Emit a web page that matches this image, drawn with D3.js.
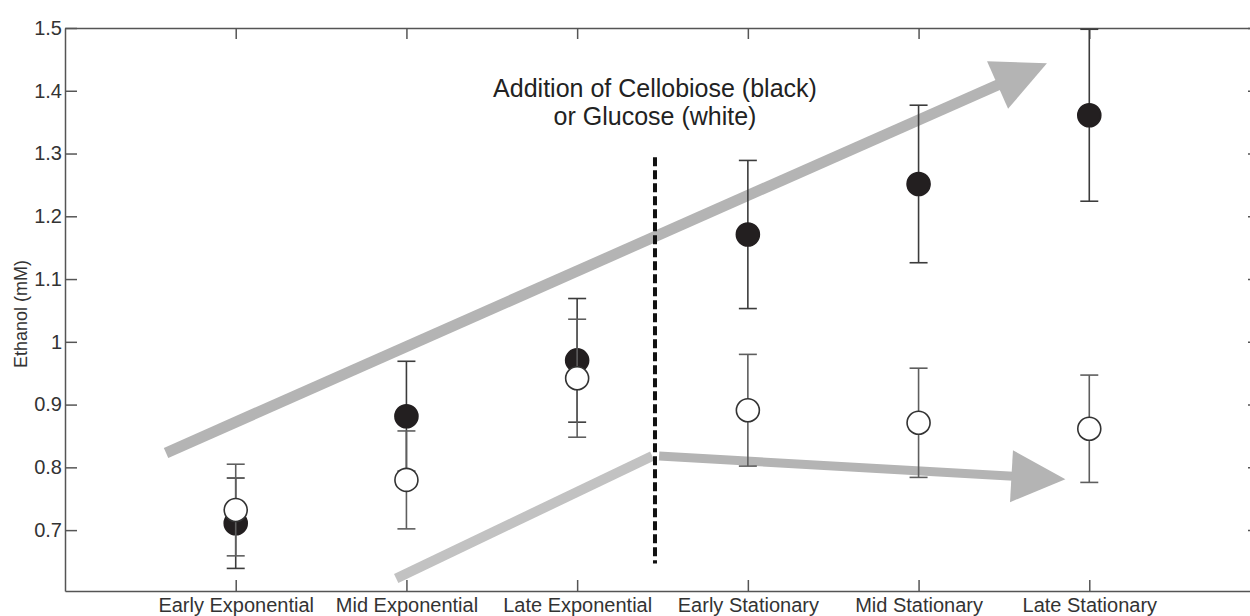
<!DOCTYPE html>
<html>
<head>
<meta charset="utf-8">
<script src="https://cdn.jsdelivr.net/npm/d3@7"></script>
<style>
  body { margin: 0; background: #fff; }
  svg text { font-family: "Liberation Sans", Arial, sans-serif; }
</style>
</head>
<body>
<script>
// growth stages on the x axis
var stages = ["Early Exponential", "Mid Exponential", "Late Exponential",
  "Early Stationary", "Mid Stationary", "Late Stationary"];

// ethanol (mM), cellobiose added (black)
var cellobiose = [0.711, 0.8815, 0.9705, 1.171, 1.2515, 1.361];
var cellobioseErr = [0.072, 0.0875, 0.0985, 0.118, 0.1255, 0.137];

// ethanol (mM), glucose added (white)
var glucose = [0.732, 0.78, 0.942, 0.891, 0.871, 0.8615];
var glucoseErr = [0.073, 0.078, 0.094, 0.089, 0.087, 0.0855];

var yTicks = [0.7, 0.8, 0.9, 1, 1.1, 1.2, 1.3, 1.4, 1.5];

// annotation geometry in data units
var divider = { x: 3.456, y0: 0.647, y1: 1.294 };
var upArrow = [[0.592, 0.823], [5.752, 1.444]];
var lowLeg = [[1.94, 0.623], [3.44, 0.818]];
var lowArrow = [[3.48, 0.818], [5.86, 0.781]];

var width = 1250, height = 616;

var x = d3.scaleLinear().domain([0, 7]).range([65, 1260]);
var y = d3.scaleLinear().domain([0.603, 1.5]).range([591, 28]);

var svg = d3.select("body").append("svg")
  .attr("width", width)
  .attr("height", height);

var axisColor = "#555";

// arrows (drawn first, sit behind everything)
function arrow(pts, color, shaft) {
  var x0 = x(pts[0][0]), y0 = y(pts[0][1]);
  var x1 = x(pts[1][0]), y1 = y(pts[1][1]);
  var dx = x1 - x0, dy = y1 - y0;
  var len = Math.sqrt(dx * dx + dy * dy);
  var ux = dx / len, uy = dy / len;
  var headLen = 54, headHalf = 26;
  var bx = x1 - ux * headLen, by = y1 - uy * headLen;
  svg.append("line")
    .attr("x1", x0).attr("y1", y0)
    .attr("x2", bx + ux * 2).attr("y2", by + uy * 2)
    .attr("stroke", color)
    .attr("stroke-width", shaft);
  svg.append("polygon")
    .attr("points", [
      [x1, y1],
      [bx - uy * headHalf, by + ux * headHalf],
      [bx + uy * headHalf, by - ux * headHalf]
    ].map(function(p) { return p.join(","); }).join(" "))
    .attr("fill", color);
}

arrow(upArrow, "#b4b4b4", 11);

svg.append("line")
  .attr("x1", x(lowLeg[0][0])).attr("y1", y(lowLeg[0][1]))
  .attr("x2", x(lowLeg[1][0])).attr("y2", y(lowLeg[1][1]))
  .attr("stroke", "#c2c2c2")
  .attr("stroke-width", 10);

arrow(lowArrow, "#b4b4b4", 9);

// dashed divider
svg.append("line")
  .attr("x1", x(divider.x)).attr("x2", x(divider.x))
  .attr("y1", y(divider.y1)).attr("y2", y(divider.y0))
  .attr("stroke", "#111")
  .attr("stroke-width", 4)
  .attr("stroke-dasharray", "9,4");

// annotation text
var note = svg.append("text")
  .attr("x", x(divider.x))
  .attr("text-anchor", "middle")
  .attr("font-size", 25)
  .attr("fill", "#222");
note.append("tspan").attr("x", x(divider.x)).attr("y", 97)
  .text("Addition of Cellobiose (black)");
note.append("tspan").attr("x", x(divider.x)).attr("y", 125)
  .text("or Glucose (white)");

// axes / frame
var catTicks = d3.range(1, stages.length + 1);

var gLeft = svg.append("g")
  .attr("transform", "translate(" + x(0) + ",0)")
  .call(d3.axisLeft(y).tickValues(yTicks).tickFormat(d3.format(".1~f"))
    .tickSizeInner(-12).tickSizeOuter(0).tickPadding(3));

var gRight = svg.append("g")
  .attr("transform", "translate(" + x(7) + ",0)")
  .call(d3.axisRight(y).tickValues(yTicks).tickFormat("")
    .tickSizeInner(-12).tickSizeOuter(0));

var gBottom = svg.append("g")
  .attr("transform", "translate(0," + y(0.603) + ")")
  .call(d3.axisBottom(x).tickValues(catTicks)
    .tickFormat(function(d) { return stages[d - 1]; })
    .tickSizeInner(-11).tickSizeOuter(0).tickPadding(7));

var gTop = svg.append("g")
  .attr("transform", "translate(0," + y(1.5) + ")")
  .call(d3.axisTop(x).tickValues(catTicks).tickFormat("")
    .tickSizeInner(-11).tickSizeOuter(0));

[gLeft, gRight, gBottom, gTop].forEach(function(g) {
  g.select(".domain").attr("stroke", axisColor).attr("stroke-width", 1.5);
  g.selectAll(".tick line").attr("stroke", axisColor).attr("stroke-width", 1.5);
  g.selectAll(".tick text")
    .attr("fill", "#333")
    .attr("font-size", 20)
    .style("font-family", "'Liberation Sans', Arial, sans-serif");
});

// y label
svg.append("text")
  .attr("transform", "translate(27," + 314 + ") rotate(-90)")
  .attr("text-anchor", "middle")
  .attr("font-size", 18)
  .attr("fill", "#333")
  .text("Ethanol (mM)");

// series
function drawSeries(vals, errs, barColor, fill, stroke) {
  var g = svg.append("g");
  var capHalf = 9;
  var pts = g.selectAll("g.pt")
    .data(vals)
    .enter().append("g")
    .attr("class", "pt");

  pts.append("line")
    .attr("x1", function(d, i) { return x(i + 1); })
    .attr("x2", function(d, i) { return x(i + 1); })
    .attr("y1", function(d, i) { return y(d - errs[i]); })
    .attr("y2", function(d, i) { return y(d + errs[i]); })
    .attr("stroke", barColor).attr("stroke-width", 1.6);

  [-1, 1].forEach(function(s) {
    pts.append("line")
      .attr("x1", function(d, i) { return x(i + 1) - capHalf; })
      .attr("x2", function(d, i) { return x(i + 1) + capHalf; })
      .attr("y1", function(d, i) { return y(d + s * errs[i]); })
      .attr("y2", function(d, i) { return y(d + s * errs[i]); })
      .attr("stroke", barColor).attr("stroke-width", 1.6);
  });

  pts.append("circle")
    .attr("cx", function(d, i) { return x(i + 1); })
    .attr("cy", function(d) { return y(d); })
    .attr("r", 11.5)
    .attr("fill", fill)
    .attr("stroke", stroke)
    .attr("stroke-width", 1.6);
}

drawSeries(cellobiose, cellobioseErr, "#3c3c3c", "#231f20", "#231f20");
drawSeries(glucose, glucoseErr, "#5e5e5e", "#fff", "#333");
</script>
</body>
</html>
